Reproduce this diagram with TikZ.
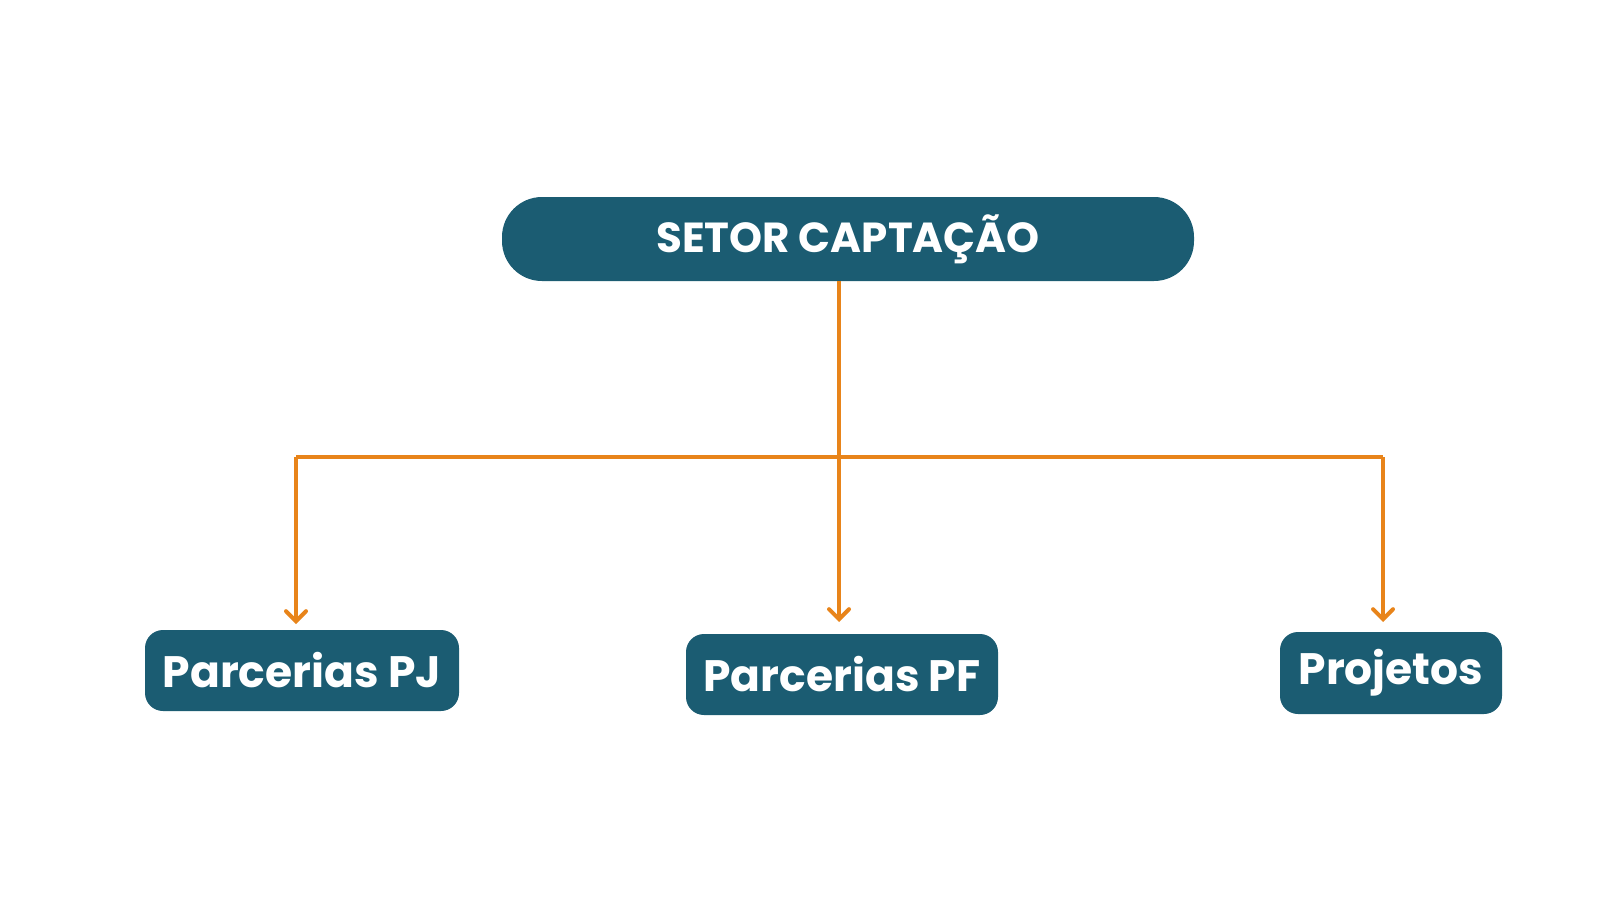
\documentclass[tikz,border=0pt]{standalone}
\usetikzlibrary{arrows.meta}
\usepackage{fontspec}
\setmainfont{Poppins}
\definecolor{teal}{HTML}{1B5C72}
\definecolor{org}{HTML}{E8841A}
\begin{document}
\begin{tikzpicture}[x=0.5pt,y=-0.5pt,
  box/.style={fill=teal,text=white,inner sep=0pt,font=\bfseries\fontsize{22}{24}\selectfont},
  conn/.style={draw=org,line width=2pt},
  arr/.style={conn,-{Straight Barb[length=5pt,width=10pt,line cap=round]}}]
\useasboundingbox (0,0) rectangle (1600,900);
\node[box,minimum width=692*0.5pt,minimum height=84*0.5pt,rounded corners=20pt,font=\fontsize{21}{24}\selectfont\bfseries] (top) at (848,239) {SETOR CAPTAÇÃO};
\node[box,minimum width=314*0.5pt,minimum height=81*0.5pt,rounded corners=9pt] (pj) at (302,670.5) {Parcerias PJ};
\node[box,minimum width=312*0.5pt,minimum height=81*0.5pt,rounded corners=9pt] (pf) at (842,674.5) {Parcerias PF};
\node[box,minimum width=222*0.5pt,minimum height=82*0.5pt,rounded corners=9pt] (pr) at (1391,673) {Projetos};
\coordinate (s) at (839,281);
\coordinate (j) at (839,457);
\coordinate (l) at (296,457);
\coordinate (r) at (1383,457);
\coordinate (a1) at (296,624);
\coordinate (a2) at (839,622);
\coordinate (a3) at (1383,622);
\draw[conn] (s) -- (j);
\draw[conn] (l) -- (r);
\draw[arr] (l) -- (a1);
\draw[arr] (j) -- (a2);
\draw[arr] (r) -- (a3);
\end{tikzpicture}
\end{document}
